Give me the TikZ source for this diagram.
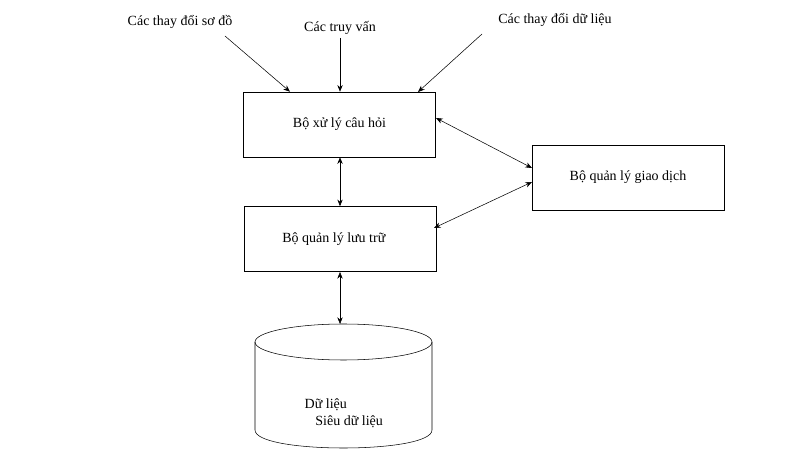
\documentclass[tikz,border=0pt]{standalone}
\usepackage{fontspec}
\setmainfont{Liberation Serif}
\usetikzlibrary{arrows.meta}
\begin{document}
\begin{tikzpicture}[x=0.75pt,y=-0.75pt,font=\fontsize{10.5}{13}\selectfont,
  box/.style={draw,thin,minimum width=144pt,minimum height=48.75pt,inner sep=0pt},
  arr/.style={-{Stealth[length=5pt,width=4pt]},thin},
  darr/.style={{Stealth[length=5pt,width=4pt]}-{Stealth[length=5pt,width=4pt]},thin}]
\useasboundingbox (0,0) rectangle (800,470);
\node[box] (qp) at (339.5,124.5) {Bộ xử lý câu hỏi};
\node[box] (sm) at (340.5,239) {\hspace*{-10pt}Bộ quản lý lưu trữ};
\node[box] (tm) at (628,177.5) {Bộ quản lý giao dịch};
\node (l1) at (180,22) {Các thay đổi sơ đồ};
\node (l2) at (340,28) {Các truy vấn};
\node (l3) at (555,20) {Các thay đổi dữ liệu};
\coordinate (s1) at (225,36);
\coordinate (s2) at (340,38);
\coordinate (s3) at (482,34);
\draw[arr] (s1) -- (qp.north west -| 290,92);
\draw[arr] (s2) -- (qp.north -| 340,92);
\draw[arr] (s3) -- (418,92);
\draw[darr] (qp.south -| 340,157) -- (sm.north -| 340,206);
\draw[darr] (436,118) -- (532,168);
\draw[darr] (434,228) -- (532,182);
% cylinder
\draw[thin] (343.5,342) ellipse [x radius=88.5,y radius=18];
\draw[thin] (255,342) -- (255,430) .. controls (255,454) and (432,454) .. (432,430) -- (432,342);
\coordinate (dbtop) at (340,324);
\draw[darr] (340,272) -- (dbtop);
\node[anchor=west,align=left] (db) at (300,413) {Dữ liệu\\\hspace*{8pt}Siêu dữ liệu};
\end{tikzpicture}
\end{document}
